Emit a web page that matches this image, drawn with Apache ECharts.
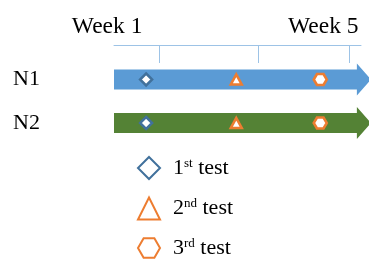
<!DOCTYPE html>
<html>
<head><meta charset="utf-8"></head>
<script type="text/javascript" src="https://cdn.jsdelivr.net/npm/echarts@6/dist/echarts.min.js"></script>
<body style="margin:0;background:#fff;">
<div id="main" style="width:369px;height:259px;"></div>
</body>
<script type="text/javascript">
// data
var rows = ['N1', 'N2'];
var weekLabels = ['Week 1', 'Week 5'];
var weekLabelAt = [11.5, 99];      // where the week labels end (axis units)
var tickAt = [18.2, 58.3, 95.1];
var arrowFrom = [0, 0];
var arrowTo = [104, 104];
var test1 = [13, 13];
var test2 = [49.5, 49.5];
var test3 = [83.5, 83.5];
var testNames = ['1st test', '2nd test', '3rd test'];
var testSup = ['st', 'nd', 'rd'];

var font = 'Liberation Serif';
var arrowColors = ['#5B9BD5', '#548235'];
var hexPath = 'path://M0,8 L4.6,0 L13.4,0 L18,8 L13.4,16 L4.6,16 Z';

var myChart = echarts.init(document.getElementById('main'));

var arrowData = rows.map(function (r, i) { return [arrowFrom[i], arrowTo[i], i]; });

function pts(arr) {
    return rows.map(function (r, i) { return [arr[i], r]; });
}

var option = {
    animation: false,
    grid: { left: 114, right: 8, top: 79.5, bottom: 136 },
    xAxis: {
        type: 'value',
        position: 'top',
        offset: 34.5,
        min: 0,
        max: 100,
        splitLine: { show: false },
        axisLine: { show: true, lineStyle: { color: '#9DC3E6', width: 1 } },
        axisTick: {
            show: true, inside: true, length: 18,
            customValues: tickAt,
            lineStyle: { color: '#9DC3E6', width: 1 }
        },
        axisLabel: {
            customValues: weekLabelAt,
            align: 'right',
            margin: 6,
            color: '#000',
            fontFamily: font,
            fontSize: 23.5,
            formatter: function (v) {
                var k = weekLabelAt.indexOf(v);
                return k >= 0 ? weekLabels[k] : '';
            }
        }
    },
    yAxis: {
        type: 'category',
        data: rows,
        inverse: true,
        boundaryGap: false,
        axisLine: { show: false },
        axisTick: { show: false },
        splitLine: { show: false },
        axisLabel: { margin: 74, color: '#000', fontFamily: font, fontSize: 22 }
    },
    legend: {
        orient: 'vertical',
        left: 137,
        top: 156,
        height: 140,
        padding: 0,
        itemWidth: 22,
        itemHeight: 22,
        itemGap: 16.5,
        data: [
            { name: testNames[0], icon: 'diamond', itemStyle: { color: '#fff', borderColor: '#41719C', borderWidth: 2 } },
            { name: testNames[1], icon: 'triangle', itemStyle: { color: '#fff', borderColor: '#ED7D31', borderWidth: 2 } },
            { name: testNames[2], icon: hexPath, itemStyle: { color: '#fff', borderColor: '#ED7D31', borderWidth: 2 } }
        ],
        formatter: function (name) {
            var k = testNames.indexOf(name);
            return '{n|' + name.charAt(0) + '}{s|' + testSup[k] + '}{n|' + name.slice(3) + '}';
        },
        textStyle: {
            padding: [0, 0, 0, 8],
            rich: {
                n: { fontFamily: font, fontSize: 22, lineHeight: 22, color: '#000' },
                s: { fontFamily: font, fontSize: 13, lineHeight: 22, color: '#000', verticalAlign: 'top' }
            }
        }
    },
    series: [
        {
            type: 'custom',
            silent: true,
            clip: false,
            z: 1,
            data: arrowData,
            renderItem: function (params, api) {
                var idx = api.value(2);
                var s = api.coord([api.value(0), idx]);
                var e = api.coord([api.value(1), idx]);
                var y = s[1], bh = 10, hh = 16, hl = 14;
                return {
                    type: 'polygon',
                    shape: {
                        points: [
                            [s[0], y - bh], [e[0] - hl, y - bh], [e[0] - hl, y - hh],
                            [e[0], y], [e[0] - hl, y + hh], [e[0] - hl, y + bh], [s[0], y + bh]
                        ]
                    },
                    style: { fill: arrowColors[idx] }
                };
            }
        },
        {
            name: testNames[0], type: 'scatter', z: 3,
            symbol: 'diamond', symbolSize: 12,
            itemStyle: { color: '#fff', borderColor: '#41719C', borderWidth: 2.5, opacity: 1 },
            data: pts(test1)
        },
        {
            name: testNames[1], type: 'scatter', z: 3,
            symbol: 'triangle', symbolSize: [11, 10],
            itemStyle: { color: '#fff', borderColor: '#ED7D31', borderWidth: 2.5, opacity: 1 },
            data: pts(test2)
        },
        {
            name: testNames[2], type: 'scatter', z: 3,
            symbol: hexPath, symbolSize: [13, 11],
            itemStyle: { color: '#fff', borderColor: '#ED7D31', borderWidth: 2.5, opacity: 1 },
            data: pts(test3)
        }
    ]
};

myChart.setOption(option);
</script>
</html>
